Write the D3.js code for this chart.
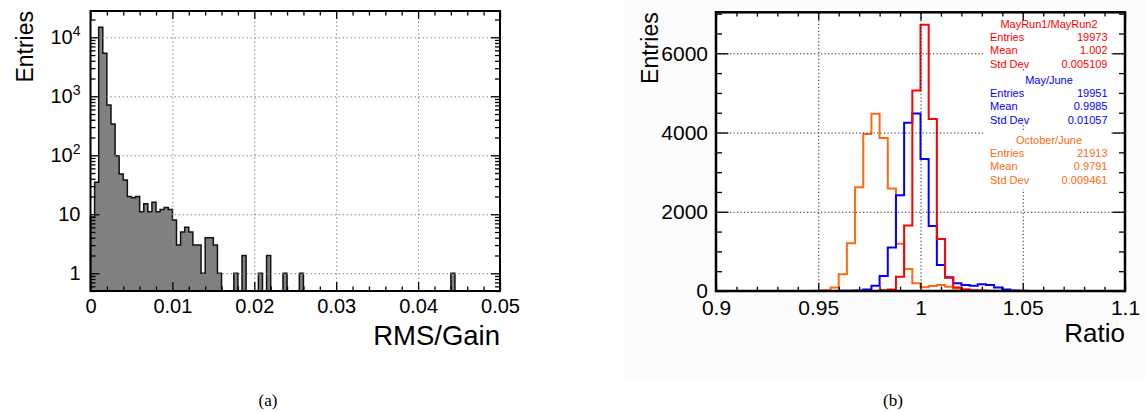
<!DOCTYPE html>
<html><head><meta charset="utf-8">
<script src="https://cdn.jsdelivr.net/npm/d3@7"></script>
<style>
body{margin:0;background:#fff;}
svg{display:block;font-family:"Liberation Sans",Arial,Helvetica,sans-serif;}
</style></head><body>
<svg id="c" width="1146" height="412"></svg>
<script>
// ---------------- data: panel (a) RMS/Gain ----------------
const rmsRange = [0, 0.05];
const rmsCounts = [
  9,35,14800,5350,710,340,98,48,38,20,
  19,20,11,15,11,16,11,12,13,12,
  8,3,5,6,5,3,3,1,4,4,
  3,1,0,0,0,1,0,2,0,0,
  0,1,0,2,0,0,0,1,0,0,
  0,1,0,0,0,0,0,0,0,0,
  0,0,0,0,0,0,0,0,0,0,
  0,0,0,0,0,0,0,0,0,0,
  0,0,0,0,0,0,0,0,1,0,
  0,0,0,0,0,0,0,0,0,0
];
const rmsXTicks = [0, 0.01, 0.02, 0.03, 0.04, 0.05];
const rmsXTickLabels = ["0", "0.01", "0.02", "0.03", "0.04", "0.05"];
const rmsYTicks = [1, 10, 100, 1000, 10000];
const rmsYTickBase = ["1", "10", "10", "10", "10"];
const rmsYTickExp = ["", "", "2", "3", "4"];
const rmsXTitle = "RMS/Gain";
const rmsYTitle = "Entries";

// ---------------- data: panel (b) Ratio ----------------
const ratioRange = [0.9, 1.1];
const ratioNames = ["MayRun1/MayRun2", "May/June", "October/June"];
const ratioMayRun = [
  0,0,0,0,0,0,0,0,0,0,
  0,0,0,0,0,0,0,0,0,0,
  20,40,360,1655,5060,6720,4340,1310,335,90,
  40,15,5,0,0,0,0,0,0,0,
  0,0,0,0,0,0,0,0,0,0
];
const ratioMayJune = [
  0,0,0,0,0,0,0,0,0,0,
  0,0,0,0,0,5,8,15,40,135,
  380,1095,2420,4250,4480,3330,1640,655,345,195,
  150,135,168,150,90,40,15,5,0,0,
  0,0,0,0,0,0,0,0,0,0
];
const ratioOctJune = [
  0,0,0,0,0,0,0,0,0,0,
  0,0,5,20,90,420,1205,2620,3960,4475,
  3860,2590,1190,555,195,95,125,150,110,60,
  40,20,10,5,0,0,0,0,0,0,
  0,0,0,0,0,0,0,0,0,0
];
const ratioEntries = ["19973", "19951", "21913"];
const ratioMeans = ["1.002", "0.9985", "0.9791"];
const ratioStdDevs = ["0.005109", "0.01057", "0.009461"];
const ratioXTicks = [0.9, 0.95, 1, 1.05, 1.1];
const ratioXTickLabels = ["0.9", "0.95", "1", "1.05", "1.1"];
const ratioYTicks = [0, 2000, 4000, 6000];
const ratioXTitle = "Ratio";
const ratioYTitle = "Entries";
const captions = ["(a)", "(b)"];

// ---------------- drawing ----------------
const svg = d3.select("#c");
const FONT = '"Liberation Sans",Arial,Helvetica,sans-serif';

function styleAxis(g, fs){
  g.select(".domain").remove();
  g.selectAll(".tick line").attr("stroke","#000").attr("stroke-width",1.3);
  g.selectAll(".tick text").attr("fill","#000").attr("font-size",fs).attr("font-family",FONT);
}
function gridAxis(g, color, dash){
  g.select(".domain").remove();
  g.selectAll(".tick text").remove();
  g.selectAll(".tick line").attr("stroke",color).attr("stroke-width",1).attr("stroke-dasharray",dash);
}

// ===== Panel (a) =====
const A = {x0:90.5, x1:500, y0:11, y1:291};
const xA = d3.scaleLinear().domain(rmsRange).range([A.x0, A.x1]);
const yA = d3.scaleLog().domain([0.5, 27900]).range([A.y1, A.y0]);
const gA = svg.append("g");

// histogram fill + outline
const nA = rmsCounts.length, wA = (rmsRange[1]-rmsRange[0])/nA;
const ptsA = [[xA(rmsRange[0]), A.y1]];
rmsCounts.forEach((v,i)=>{
  const yy = v>0 ? yA(v) : A.y1;
  ptsA.push([xA(rmsRange[0]+i*wA), yy]);
  ptsA.push([xA(rmsRange[0]+(i+1)*wA), yy]);
});
ptsA.push([xA(rmsRange[1]), A.y1]);
gA.append("path").attr("d", d3.line()(ptsA) + "Z")
  .attr("fill","#808080").attr("stroke","#111").attr("stroke-width",1.5).attr("stroke-linejoin","miter");

// grid
gA.append("g").attr("transform",`translate(0,${A.y1})`)
  .call(d3.axisBottom(xA).tickValues(rmsXTicks.slice(1,-1)).tickSize(-(A.y1-A.y0)).tickFormat(""))
  .call(g=>gridAxis(g,"#8a8a8a","1.5,2.5"));
gA.append("g").attr("transform",`translate(${A.x0},0)`)
  .call(d3.axisLeft(yA).tickValues(rmsYTicks).tickSize(-(A.x1-A.x0)).tickFormat(""))
  .call(g=>gridAxis(g,"#8a8a8a","1.5,2.5"));

// minor tick values
const rmsMinorX = d3.range(0, 0.0501, 0.002).filter(v=>Math.abs(v/0.01-Math.round(v/0.01))>1e-6);
const rmsMinorY = [];
[0.1,1,10,100,1000,10000].forEach(d=>{for(let k=2;k<=9;k++){const v=k*d; if(v>=0.5 && v<=27900) rmsMinorY.push(v);}});

// axes
gA.append("g").attr("transform",`translate(0,${A.y1})`)
  .call(d3.axisBottom(xA).tickValues(rmsXTicks).tickFormat((d,i)=>rmsXTickLabels[i]).tickSizeInner(-9).tickSizeOuter(0).tickPadding(8))
  .call(g=>styleAxis(g,20));
gA.append("g").attr("transform",`translate(0,${A.y1})`)
  .call(d3.axisBottom(xA).tickValues(rmsMinorX).tickFormat("").tickSizeInner(-4.5).tickSizeOuter(0))
  .call(g=>styleAxis(g,20));
gA.append("g").attr("transform",`translate(0,${A.y0})`)
  .call(d3.axisTop(xA).tickValues(rmsXTicks).tickFormat("").tickSizeInner(-8).tickSizeOuter(0))
  .call(g=>styleAxis(g,20));
gA.append("g").attr("transform",`translate(0,${A.y0})`)
  .call(d3.axisTop(xA).tickValues(rmsMinorX).tickFormat("").tickSizeInner(-4.5).tickSizeOuter(0))
  .call(g=>styleAxis(g,20));
const yAxA = gA.append("g").attr("transform",`translate(${A.x0},0)`)
  .call(d3.axisLeft(yA).tickValues(rmsYTicks).tickFormat((d,i)=>rmsYTickBase[i]).tickSizeInner(-9).tickSizeOuter(0).tickPadding(10))
  .call(g=>styleAxis(g,20));
yAxA.selectAll(".tick text").each(function(d,i){
  if(rmsYTickExp[i]){
    d3.select(this).append("tspan").text(rmsYTickExp[i]).attr("font-size",14).attr("dy","-0.55em");
  }
});
gA.append("g").attr("transform",`translate(${A.x0},0)`)
  .call(d3.axisLeft(yA).tickValues(rmsMinorY).tickFormat("").tickSizeInner(-5).tickSizeOuter(0))
  .call(g=>styleAxis(g,20));
gA.append("g").attr("transform",`translate(${A.x1},0)`)
  .call(d3.axisRight(yA).tickValues(rmsYTicks).tickFormat("").tickSizeInner(-9).tickSizeOuter(0))
  .call(g=>styleAxis(g,20));
gA.append("g").attr("transform",`translate(${A.x1},0)`)
  .call(d3.axisRight(yA).tickValues(rmsMinorY).tickFormat("").tickSizeInner(-5).tickSizeOuter(0))
  .call(g=>styleAxis(g,20));

gA.append("rect").attr("x",A.x0).attr("y",A.y0).attr("width",A.x1-A.x0).attr("height",A.y1-A.y0)
  .attr("fill","none").attr("stroke","#000").attr("stroke-width",2);

gA.append("text").text(rmsXTitle).attr("x",A.x1).attr("y",345).attr("text-anchor","end")
  .attr("font-size",27.5).attr("fill","#000");
gA.append("text").text(rmsYTitle).attr("transform",`translate(33,${A.y0}) rotate(-90)`).attr("text-anchor","end")
  .attr("font-size",23).attr("fill","#000");

// ===== Panel (b) =====
svg.append("rect").attr("x",624).attr("y",0).attr("width",522).attr("height",381).attr("fill","#fcfcfc");
const B = {x0:716, x1:1125, y0:12.3, y1:291};
const xB = d3.scaleLinear().domain(ratioRange).range([B.x0, B.x1]);
const yB = d3.scaleLinear().domain([0, 7035]).range([B.y1, B.y0]);
const gB = svg.append("g");
gB.append("rect").attr("x",B.x0).attr("y",B.y0).attr("width",B.x1-B.x0).attr("height",B.y1-B.y0).attr("fill","#fff");

const nB = ratioMayRun.length, wB = (ratioRange[1]-ratioRange[0])/nB;
function stepPts(vals){
  const p=[];
  vals.forEach((v,i)=>{ p.push([xB(ratioRange[0]+i*wB), yB(v)]); p.push([xB(ratioRange[0]+(i+1)*wB), yB(v)]); });
  return p;
}
const seriesB = [
  {vals: ratioOctJune, color:"#ff6a10"},
  {vals: ratioMayJune, color:"#0000ff"},
  {vals: ratioMayRun, color:"#ff0000"}
];
seriesB.forEach(s=>{
  gB.append("path").attr("d", d3.line()(stepPts(s.vals))).attr("fill","none")
    .attr("stroke",s.color).attr("stroke-width",2).attr("stroke-linejoin","miter");
});

// grid
gB.append("g").attr("transform",`translate(0,${B.y1})`)
  .call(d3.axisBottom(xB).tickValues(ratioXTicks.slice(1,-1)).tickSize(-(B.y1-B.y0)).tickFormat(""))
  .call(g=>gridAxis(g,"#222","1.2,2.3"));
gB.append("g").attr("transform",`translate(${B.x0},0)`)
  .call(d3.axisLeft(yB).tickValues(ratioYTicks.slice(1)).tickSize(-(B.x1-B.x0)).tickFormat(""))
  .call(g=>gridAxis(g,"#222","1.2,2.3"));

// stats boxes
const boxTops = [16, 72, 132];
const boxBottoms = [67, 124, 189];
const statColors = ["#ff0000","#0000ff","#ff6a10"];
const boxX0 = 983, boxX1 = 1111;
ratioNames.forEach((name,i)=>{
  const gs = gB.append("g").attr("font-size",11).attr("fill",statColors[i]);
  gs.append("rect").attr("x",boxX0).attr("y",boxTops[i]).attr("width",boxX1-boxX0).attr("height",boxBottoms[i]-boxTops[i]).attr("fill","#fff");
  const t0 = boxTops[i];
  gs.append("text").text(name).attr("x",(boxX0+boxX1)/2+2).attr("y",t0+12).attr("text-anchor","middle");
  const rows = [["Entries",ratioEntries[i]],["Mean",ratioMeans[i]],["Std Dev",ratioStdDevs[i]]];
  rows.forEach((r,k)=>{
    gs.append("text").text(r[0]).attr("x",990).attr("y",t0+25+k*13.3);
    gs.append("text").text(r[1]).attr("x",1107.5).attr("y",t0+25+k*13.3).attr("text-anchor","end");
  });
});

const ratioMinorX = d3.range(0.9, 1.1001, 0.01).filter(v=>Math.abs(v/0.05-Math.round(v/0.05))>1e-6);
const ratioMinorY = d3.range(500, 7035, 500).filter(v=>v%2000!==0);

gB.append("g").attr("transform",`translate(0,${B.y1})`)
  .call(d3.axisBottom(xB).tickValues(ratioXTicks).tickFormat((d,i)=>ratioXTickLabels[i]).tickSizeInner(-8).tickSizeOuter(0).tickPadding(9))
  .call(g=>styleAxis(g,21));
gB.append("g").attr("transform",`translate(0,${B.y1})`)
  .call(d3.axisBottom(xB).tickValues(ratioMinorX).tickFormat("").tickSizeInner(-4.3).tickSizeOuter(0))
  .call(g=>styleAxis(g,21));
gB.append("g").attr("transform",`translate(0,${B.y0})`)
  .call(d3.axisTop(xB).tickValues(ratioXTicks).tickFormat("").tickSizeInner(-8).tickSizeOuter(0))
  .call(g=>styleAxis(g,21));
gB.append("g").attr("transform",`translate(0,${B.y0})`)
  .call(d3.axisTop(xB).tickValues(ratioMinorX).tickFormat("").tickSizeInner(-4.3).tickSizeOuter(0))
  .call(g=>styleAxis(g,21));
gB.append("g").attr("transform",`translate(${B.x0},0)`)
  .call(d3.axisLeft(yB).tickValues(ratioYTicks).tickFormat(d3.format("d")).tickSizeInner(-12.5).tickSizeOuter(0).tickPadding(8))
  .call(g=>styleAxis(g,21));
gB.append("g").attr("transform",`translate(${B.x0},0)`)
  .call(d3.axisLeft(yB).tickValues(ratioMinorY).tickFormat("").tickSizeInner(-6).tickSizeOuter(0))
  .call(g=>styleAxis(g,21));
gB.append("g").attr("transform",`translate(${B.x1},0)`)
  .call(d3.axisRight(yB).tickValues(ratioYTicks).tickFormat("").tickSizeInner(-12.5).tickSizeOuter(0))
  .call(g=>styleAxis(g,21));
gB.append("g").attr("transform",`translate(${B.x1},0)`)
  .call(d3.axisRight(yB).tickValues(ratioMinorY).tickFormat("").tickSizeInner(-6).tickSizeOuter(0))
  .call(g=>styleAxis(g,21));

gB.append("rect").attr("x",B.x0).attr("y",B.y0).attr("width",B.x1-B.x0).attr("height",B.y1-B.y0)
  .attr("fill","none").attr("stroke","#000").attr("stroke-width",2.5);

gB.append("text").text(ratioXTitle).attr("x",B.x1).attr("y",342).attr("text-anchor","end")
  .attr("font-size",26).attr("fill","#000");
gB.append("text").text(ratioYTitle).attr("transform",`translate(658,${B.y0}) rotate(-90)`).attr("text-anchor","end")
  .attr("font-size",23).attr("fill","#000");

// captions
svg.append("text").text(captions[0]).attr("x",268).attr("y",406).attr("text-anchor","middle")
  .attr("font-family",'"Liberation Serif","Times New Roman",serif').attr("font-size",17).attr("fill","#000");
svg.append("text").text(captions[1]).attr("x",893).attr("y",406).attr("text-anchor","middle")
  .attr("font-family",'"Liberation Serif","Times New Roman",serif').attr("font-size",17).attr("fill","#000");
</script>
</body></html>
